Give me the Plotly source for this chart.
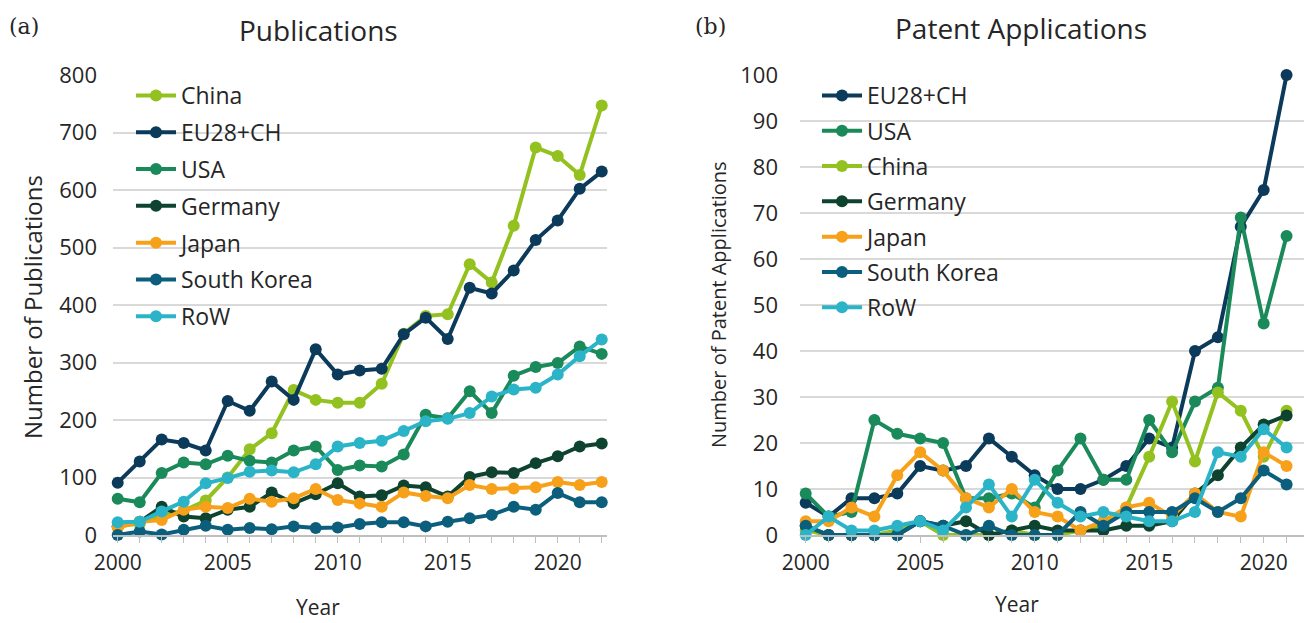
import plotly.graph_objects as go

# page is 1312x623; the html body has an 8px margin, so the figure is 8px smaller
OFF = 8
W, H = 1312 - OFF, 623 - OFF

# ---------------- data ----------------
years_pub = list(range(2000, 2023))
pub_china = [15, 20, 35, 42, 60, 100, 149, 177, 252, 235, 230, 230, 263, 350, 381, 384, 471, 439, 538, 674, 659, 626, 747]
pub_eu = [91, 128, 166, 160, 147, 233, 216, 267, 235, 323, 279, 286, 289, 349, 378, 341, 430, 420, 460, 513, 547, 602, 632]
pub_usa = [63, 57, 108, 126, 123, 138, 129, 126, 147, 154, 113, 121, 119, 140, 209, 203, 250, 212, 277, 292, 299, 328, 315]
pub_germany = [15, 23, 49, 32, 29, 44, 49, 74, 55, 71, 90, 67, 69, 86, 83, 67, 101, 109, 108, 125, 137, 154, 159]
pub_japan = [13, 23, 26, 44, 49, 47, 63, 58, 64, 80, 61, 55, 49, 74, 68, 64, 87, 80, 81, 83, 92, 87, 92]
pub_korea = [0, 6, 1, 9, 16, 9, 12, 10, 15, 12, 13, 19, 22, 22, 15, 23, 29, 35, 49, 44, 73, 57, 57]
pub_row = [22, 23, 41, 58, 90, 99, 110, 112, 109, 123, 154, 160, 164, 181, 198, 202, 212, 241, 253, 256, 279, 311, 340]

years_pat = list(range(2000, 2022))
pat_eu = [7, 4, 8, 8, 9, 15, 14, 15, 21, 17, 13, 10, 10, 12, 15, 21, 19, 40, 43, 67, 75, 100]
pat_usa = [9, 4, 5, 25, 22, 21, 20, 8, 8, 9, 6, 14, 21, 12, 12, 25, 18, 29, 32, 69, 46, 65]
pat_china = [1, 0, 0, 0, 1, 3, 0, 0, 0, 1, 0, 0, 1, 2, 6, 17, 29, 16, 31, 27, 17, 27]
pat_germany = [2, 0, 0, 0, 0, 3, 2, 3, 0, 1, 2, 1, 1, 1, 2, 2, 3, 9, 13, 19, 24, 26]
pat_japan = [3, 3, 6, 4, 13, 18, 14, 8, 6, 10, 5, 4, 1, 3, 6, 7, 4, 9, 5, 4, 18, 15]
pat_korea = [2, 0, 0, 0, 0, 3, 2, 0, 2, 0, 0, 0, 5, 2, 5, 5, 5, 8, 5, 8, 14, 11]
pat_row = [0, 4, 1, 1, 2, 3, 1, 6, 11, 4, 12, 7, 4, 5, 4, 3, 3, 5, 18, 17, 23, 19]

colors = {
    "China": "#93C11F",
    "EU28+CH": "#0B3A5A",
    "USA": "#1A8A5A",
    "Germany": "#0E4330",
    "Japan": "#F7A11A",
    "South Korea": "#0C5E7D",
    "RoW": "#2BB4C7",
}

pub_series = [("China", pub_china), ("EU28+CH", pub_eu), ("USA", pub_usa),
              ("Germany", pub_germany), ("Japan", pub_japan),
              ("South Korea", pub_korea), ("RoW", pub_row)]
pat_series = [("EU28+CH", pat_eu), ("USA", pat_usa), ("China", pat_china),
              ("Germany", pat_germany), ("Japan", pat_japan),
              ("South Korea", pat_korea), ("RoW", pat_row)]

FONT = "Open Sans"
TXT = "#262626"


def fx(px):
    return (px - OFF) / W


def fy(py):
    return 1 - (py - OFF) / H


fig = go.Figure()

for name, vals in pub_series:
    fig.add_trace(go.Scatter(
        x=years_pub, y=vals, name=name, mode="lines+markers",
        line=dict(color=colors[name], width=4),
        marker=dict(color=colors[name], size=12),
        xaxis="x", yaxis="y", legend="legend", legendgroup="a" + name,
        cliponaxis=False,
    ))

for name, vals in pat_series:
    fig.add_trace(go.Scatter(
        x=years_pat, y=vals, name=name, mode="lines+markers",
        line=dict(color=colors[name], width=4),
        marker=dict(color=colors[name], size=12),
        xaxis="x2", yaxis="y2", legend="legend2", legendgroup="b" + name,
        cliponaxis=False,
    ))

grid = "#D9D9D9"


def xaxis_cfg(dom, rng, yrs, anchor):
    return dict(
        domain=[fx(dom[0]), fx(dom[1])], range=rng, anchor=anchor,
        automargin=False,
        tickmode="array", tickvals=yrs,
        ticktext=[str(y) if y % 5 == 0 else "" for y in yrs],
        ticks="outside", ticklen=6, tickcolor="#BFBFBF", tickwidth=1,
        showline=True, linecolor="#BFBFBF", linewidth=1.5,
        showgrid=False, zeroline=False,
        tickfont=dict(family=FONT, size=21, color=TXT),
        ticklabelstandoff=2,
    )


def yaxis_cfg(rng, dt, anchor, standoff):
    return dict(
        domain=[fy(535), fy(75)], range=rng, dtick=dt, anchor=anchor,
        automargin=False,
        showgrid=True, gridcolor=grid, gridwidth=1.5,
        zeroline=False, showline=False, ticks="",
        tickfont=dict(family=FONT, size=22, color=TXT),
        ticklabelstandoff=standoff,
    )


fig.update_layout(
    width=W, height=H,
    margin=dict(l=0, r=0, t=0, b=0, autoexpand=False),
    paper_bgcolor="white", plot_bgcolor="white",
    showlegend=True,
    xaxis=xaxis_cfg((113, 607), [1999.786, 2022.24], years_pub, "y"),
    yaxis=yaxis_cfg([0, 800], 100, "x", 15),
    xaxis2=xaxis_cfg((800, 1312), [1999.751, 2022.11], years_pat, "y2"),
    yaxis2=yaxis_cfg([0, 100], 10, "x2", 21),
    legend=dict(
        x=fx(131), y=fy(74), xanchor="left", yanchor="top",
        bgcolor="rgba(0,0,0,0)", traceorder="grouped", tracegroupgap=3.9,
        font=dict(family=FONT, size=23, color=TXT), itemwidth=40,
    ),
    legend2=dict(
        x=fx(817), y=fy(74), xanchor="left", yanchor="top",
        bgcolor="rgba(0,0,0,0)", traceorder="grouped", tracegroupgap=2.4,
        font=dict(family=FONT, size=23, color=TXT), itemwidth=40,
    ),
)

ann = [
    dict(text="Publications", x=318, y=30, size=28, family=FONT),
    dict(text="Patent Applications", x=1021, y=28, size=28, family=FONT),
    dict(text="(a)", x=24, y=26, size=22, family="DejaVu Serif"),
    dict(text="(b)", x=710, y=26, size=22, family="DejaVu Serif"),
    dict(text="Year", x=318, y=607, size=21, family=FONT),
    dict(text="Year", x=1017, y=604, size=21, family=FONT),
]
for a in ann:
    fig.add_annotation(text=a["text"], x=fx(a["x"]), y=fy(a["y"]), xref="paper", yref="paper",
                       showarrow=False, xanchor="center", yanchor="middle",
                       font=dict(family=a["family"], size=a["size"], color=TXT))

fig.add_annotation(text="Number of Publications", x=fx(32), y=fy(307), xref="paper",
                   yref="paper", showarrow=False, textangle=-90,
                   xanchor="center", yanchor="middle",
                   font=dict(family=FONT, size=24, color=TXT))
fig.add_annotation(text="Number of Patent Applications", x=fx(718), y=fy(305), xref="paper",
                   yref="paper", showarrow=False, textangle=-90,
                   xanchor="center", yanchor="middle",
                   font=dict(family=FONT, size=20, color=TXT))

fig.write_html("out.html")
